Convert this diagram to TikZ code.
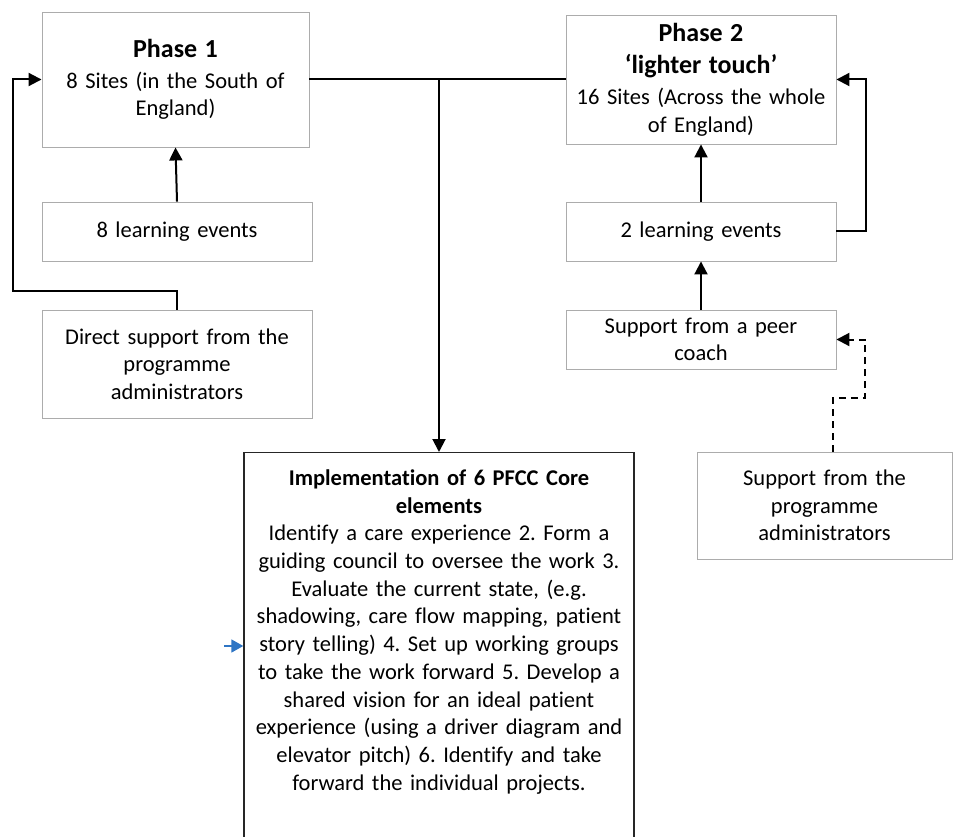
\documentclass[tikz,border=0pt]{standalone}
\usepackage{fontspec}
\setmainfont[Ligatures=NoCommon]{Carlito}
\usetikzlibrary{arrows.meta}
\frenchspacing

\begin{document}
\begin{tikzpicture}[x=1pt,y=-1pt,
    box/.style={draw=gray!65,line width=0.9pt,align=center,inner xsep=5pt,
      font=\fontsize{22.5}{27.7}\selectfont},
    arr/.style={draw=black,line width=2pt,-{Triangle[length=13pt,width=13pt]}}]
  \clip (0,0) rectangle (953,837);
  \begin{scope}[every node/.style={box}]
    \node[text width=255pt,minimum width=267pt,minimum height=135pt] (p1) at (175.5,79.5)
      {{\fontsize{26}{30}\selectfont\bfseries Phase 1}\\[3pt]8 Sites (in the South of\\England)};
    \node[text width=258pt,minimum width=270pt,minimum height=59pt] (le1) at (177,231.5)
      {8 learning events};
    \node[text width=258pt,minimum width=270pt,minimum height=108pt] (ds1) at (177,364)
      {Direct support from the\\programme\\administrators};
    \node[text width=258pt,minimum width=270pt,minimum height=129pt] (p2) at (701,79.5)
      {{\fontsize{26}{30}\selectfont\bfseries Phase 2}\\[5pt]
       {\fontsize{26}{30}\selectfont\bfseries ‘lighter touch’}\\[3pt]
       16 Sites (Across the whole\\of England)};
    \node[text width=258pt,minimum width=270pt,minimum height=59pt] (le2) at (701,231.5)
      {2 learning events};
    \node[text width=258pt,minimum width=270pt,minimum height=59pt] (pc) at (701,339.5)
      {Support from a peer\\coach};
    \node[text width=243pt,minimum width=255pt,minimum height=107pt] (sa) at (824.5,505.5)
      {Support from the\\programme\\administrators};
    \node[draw=black!85,line width=1.4pt,text width=378pt,minimum width=390pt,
      inner ysep=17pt,text depth=420pt,anchor=north] (impl) at (439,452)
      {\textbf{Implementation of 6 PFCC Core}\\\textbf{elements}\\
       Identify a care experience 2. Form a\\
       guiding council to oversee the work 3.\\
       Evaluate the current state, (e.g.\\
       shadowing, care flow mapping, patient\\
       story telling) 4. Set up working groups\\
       to take the work forward 5. Develop a\\
       shared vision for an ideal patient\\
       experience (using a driver diagram and\\
       elevator pitch) 6. Identify and take\\
       forward the individual projects.};
  \end{scope}
  \coordinate (j1) at (439,79.5);
  \coordinate (l1) at (13,291);
  \coordinate (r2) at (866,231.5);
  \coordinate (d1) at (865,398);
  \coordinate (bl) at (224,646);
  \begin{scope}[every edge/.style={arr}]
    \path (p1.east) edge[-] (p2.west);
    \path (j1) edge (impl.north);
    \path (le1.north) edge (p1.south);
    \path (le2.north) edge (p2.south);
    \path (pc.north) edge (le2.south);
  \end{scope}
  \draw[arr] (ds1.north) |- (l1) |- (p1.west);
  \draw[arr] (le2.east) -- (r2) |- (p2.east);
  \draw[arr,dash pattern=on 7pt off 5pt] ([xshift=8pt]sa.north) |- (d1) |- (pc.east);
  \draw[draw={rgb,255:red,46;green,117;blue,196},line width=1.8pt,
    -{Triangle[length=12pt,width=13pt]}] (bl) -- (bl -| impl.west);
\end{tikzpicture}
\end{document}
